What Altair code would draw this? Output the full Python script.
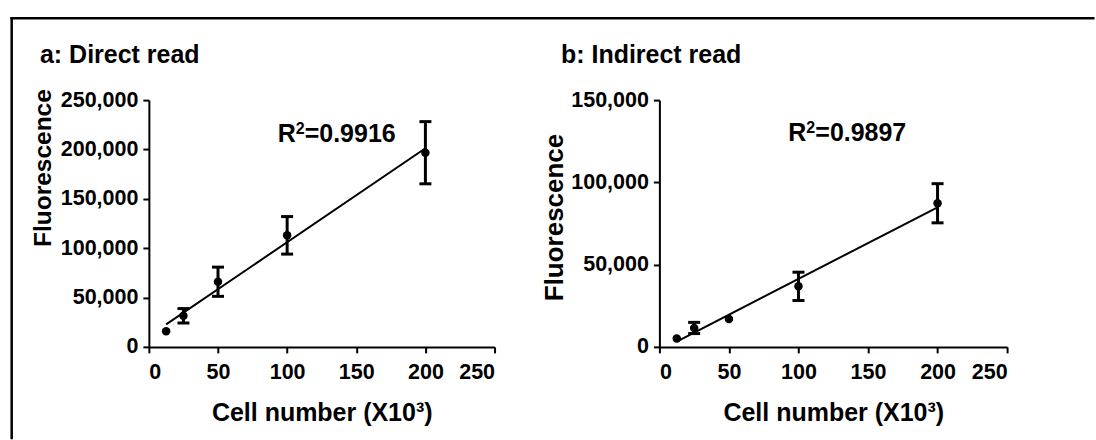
import altair as alt
import pandas as pd

FONT = "Liberation Sans"

# Cell numbers (x 10^3) and fluorescence readings (mean and SD)
cells = [12.5, 25, 50, 100, 200]
direct_mean = [15900, 31500, 66000, 113000, 196700]
direct_sd = [None, 7300, 14800, 19000, 31500]
indirect_mean = [5100, 11500, 17000, 36800, 87300]
indirect_sd = [None, 3400, None, 8600, 11900]

panel_titles = ["a: Direct read", "b: Indirect read"]
r2_values = ["=0.9916", "=0.9897"]
r2_x = [93.2, 92.7]
r2_y = [207900, 125200]

x_ticks = [0, 50, 100, 150, 200, 250]
direct_ticks = [0, 50000, 100000, 150000, 200000, 250000]
indirect_ticks = [0, 50000, 100000, 150000]

x_title = "Cell number (X10³)"
y_title = "Fluorescence"


def panel(mean, sd, y_max, y_ticks, title, r2_text, rx, ry,
          width, ytitle_x, ytitle_y, ytitle_size, title_dx, extra=()):
    df = pd.DataFrame({"cells": cells, "mean": mean, "sd": sd})
    df["lo"] = df["mean"] - df["sd"]
    df["hi"] = df["mean"] + df["sd"]

    x_axis = alt.Axis(values=x_ticks, title=x_title, titleFontSize=25,
                      titleY=73.5, titleBaseline="alphabetic",
                      labelPadding=8.5)
    y_axis = alt.Axis(values=y_ticks, format=",d", title=y_title,
                      titleFontSize=ytitle_size, titleAngle=270,
                      titleX=ytitle_x, titleY=ytitle_y, titleAlign="center",
                      titleBaseline="alphabetic", labelPadding=5)
    xs = alt.Scale(domain=[0, 250], nice=False)
    ys = alt.Scale(domain=[0, y_max], nice=False)

    def X(f):
        return alt.X(f, type="quantitative", scale=xs, axis=x_axis)

    def Y(f):
        return alt.Y(f, type="quantitative", scale=ys, axis=y_axis)

    fit = (alt.Chart(df).transform_regression("cells", "mean")
           .mark_line(color="black", strokeWidth=2)
           .encode(x=X("cells"), y=Y("mean")))
    bars = (alt.Chart(df)
            .mark_errorbar(ticks=True, size=12, thickness=3, color="black",
                           opacity=1)
            .encode(x=X("cells"), y=Y("lo"), y2="hi"))
    dots = (alt.Chart(df).mark_circle(size=72, color="black", opacity=1)
            .encode(x=X("cells"), y=Y("mean")))

    # R² label: "R", raised "2", then the value
    lab = pd.DataFrame({"lx": [rx], "ly": [ry], "t": [r2_text]})
    txt = dict(font=FONT, fontWeight="bold", align="left",
               baseline="alphabetic", color="black")
    r_part = (alt.Chart(lab).mark_text(fontSize=25, **txt)
              .encode(x=X("lx"), y=Y("ly"), text=alt.value("R")))
    sup_part = (alt.Chart(lab).mark_text(fontSize=16, dx=18, dy=-8, **txt)
                .encode(x=X("lx"), y=Y("ly"), text=alt.value("2")))
    val_part = (alt.Chart(lab).mark_text(fontSize=25, dx=27, **txt)
                .encode(x=X("lx"), y=Y("ly"), text="t:N"))

    head = (alt.Chart(pd.DataFrame({"t": [title]}))
            .mark_text(font=FONT, fontSize=25, fontWeight="bold",
                       align="left", baseline="alphabetic", color="black")
            .encode(x=alt.value(title_dx), y=alt.value(-37), text="t:N"))
    return alt.layer(*extra, fit, bars, dots, r_part, sup_part, val_part,
                     head).properties(width=width, height=247)


# Frame around the figure (left and top edges)
frame_df = pd.DataFrame({"k": [0]})
frame_left = (alt.Chart(frame_df).mark_rule(color="black", strokeWidth=2.5)
              .encode(x=alt.value(-137.3), y=alt.value(-83.2),
                      y2=alt.value(339.5)))
frame_top = (alt.Chart(frame_df).mark_rule(color="black", strokeWidth=2.5)
             .encode(x=alt.value(-138.5), x2=alt.value(946.5),
                     y=alt.value(-82)))

panel_a = panel(direct_mean, direct_sd, 250000, direct_ticks,
                panel_titles[0], r2_values[0], r2_x[0], r2_y[0],
                346, -98, 67.5, 24.5, -109, extra=(frame_left, frame_top))
panel_b = panel(indirect_mean, indirect_sd, 150000, indirect_ticks,
                panel_titles[1], r2_values[1], r2_x[1], r2_y[1],
                348, -96.5, 117, 26, -98.5)

chart = (alt.hconcat(panel_a, panel_b, spacing=165, bounds="flush")
         .properties(padding={"left": 9, "top": 15, "right": 0, "bottom": 0},
                     background="white")
         .configure_view(stroke=None)
         .configure_axis(labelFont=FONT, labelFontSize=21.5,
                         labelFontWeight="bold", labelColor="black",
                         titleFont=FONT, titleFontWeight="bold",
                         titleColor="black", domainColor="black",
                         domainWidth=2, tickColor="black", tickWidth=2,
                         tickSize=6, grid=False))

chart.save("out.html", embed_options={"renderer": "svg", "actions": False})
